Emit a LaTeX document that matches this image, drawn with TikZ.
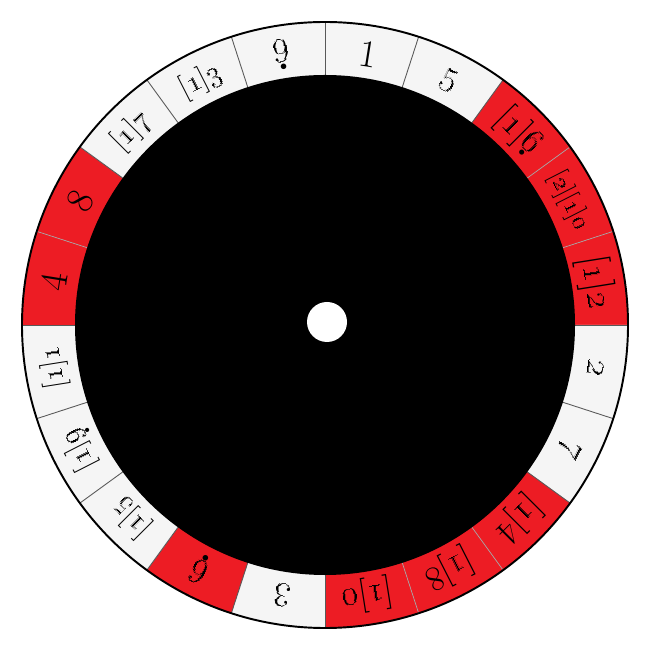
\documentclass[tikz,border=0pt]{standalone}
\definecolor{wheelred}{HTML}{ED1C24}
\definecolor{wheelwhite}{HTML}{F5F5F5}
\newcommand\osn[1]{\oldstylenums{#1}}
\newcommand\dotb[1]{\leavevmode\vtop{\baselineskip=0pt\lineskip=0.04em\lineskiplimit=0pt
  \halign{\hfil##\hfil\cr #1\cr {\bfseries .}\cr}}}
\tikzset{
  sepline/.style={draw=black!65, line width=0.5pt},
  sepred/.style={draw=black!35, line width=0.4pt},
  labx/.style={font=\fontsize{22}{24}\selectfont, inner sep=0pt},
  lab/.style={font=\fontsize{20}{22}\selectfont, inner sep=0pt},
  labm/.style={font=\fontsize{16.5}{18}\selectfont, inner sep=0pt},
  labs/.style={font=\fontsize{15}{16}\selectfont, inner sep=0pt},
  rim/.style={draw=black, line width=1.1pt},
}
\begin{document}
\begin{tikzpicture}
\useasboundingbox (-6.5,-6.5) rectangle (6.5,6.5);
% ring segments
\foreach \k/\c in {0/wheelwhite,1/wheelwhite,2/wheelred,3/wheelred,4/wheelred,
  5/wheelwhite,6/wheelwhite,7/wheelred,8/wheelred,9/wheelred,
  10/wheelwhite,11/wheelred,12/wheelwhite,13/wheelwhite,14/wheelwhite,
  15/wheelred,16/wheelred,17/wheelwhite,18/wheelwhite,19/wheelwhite}{
  \pgfmathsetmacro\a{90-18*\k}
  \pgfmathsetmacro\b{\a-18}
  \fill[\c] (\a:4.9) arc[start angle=\a, end angle=\b, radius=4.9]
     -- (\b:6.06) arc[start angle=\b, end angle=\a, radius=6.06] -- cycle;
}
% separators
\foreach \k in {0,1,5,6,10,11,12,13,14,15,17,18,19,2,7}{
  \pgfmathsetmacro\a{90-18*\k}
  \draw[sepline] (\a:4.9) -- (\a:6.06);
}
\foreach \k in {3,4,8,9,16}{
  \pgfmathsetmacro\a{90-18*\k}
  \draw[sepred] (\a:4.9) -- (\a:6.06);
}
% rim and centre
\draw[rim] (0,0) circle[radius=6.06];
\fill[black] (0,0) circle[radius=5.0];
\fill[white] (0.04,0.06) circle[radius=0.4];
% labels
\def\r{5.48}
\node[labx, rotate=-9]   (s0)  at (81:\r)   {1};
\node[labx, rotate=-27]  (s1)  at (63:\r)   {\osn{5}};
\node[lab,  rotate=-45]  (s2)  at (45:\r)   {[\osn{1}]\dotb{\osn{6}}};
\node[labs, rotate=-63]  (s3)  at (27:\r)   {[\osn{2}][\osn{1}]\osn{0}};
\node[labx, rotate=-81]  (s4)  at (9:\r)    {[\osn{1}]\osn{2}};
\node[labx, rotate=-99]  (s5)  at (-9:\r)   {\osn{2}};
\node[labx, rotate=-117] (s6)  at (-27:\r)  {\osn{7}};
\node[lab,  rotate=-135] (s7)  at (-45:\r)  {[\osn{1}]4};
\node[lab,  rotate=-153] (s8)  at (-63:\r)  {[\osn{1}]8};
\node[lab,  rotate=-171] (s9)  at (-81:\r)  {[\osn{1}]\osn{0}};
\node[labx, rotate=-189] (s10) at (-99:\r)  {\osn{3}};
\node[labx, rotate=-207] (s11) at (-117:\r) {\dotb{\osn{6}}};
\node[labm, rotate=-225] (s12) at (-135:\r) {[\osn{1}]\osn{5}};
\node[labm, rotate=-243] (s13) at (-153:\r) {[\osn{1}]\dotb{\osn{9}}};
\node[labm, rotate=-261] (s14) at (-171:\r) {[\osn{1}]\osn{1}};
\node[labx, rotate=81]   (s15) at (171:\r)  {4};
\node[labx, rotate=63]   (s16) at (153:\r)  {8};
\node[labm, rotate=45]   (s17) at (135:\r)  {[\osn{1}]\osn{7}};
\node[labm, rotate=27]   (s18) at (117:\r)  {[\osn{1}]\osn{3}};
\node[labx, rotate=9]    (s19) at (99:\r)   {\dotb{\osn{9}}};
\end{tikzpicture}
\end{document}
